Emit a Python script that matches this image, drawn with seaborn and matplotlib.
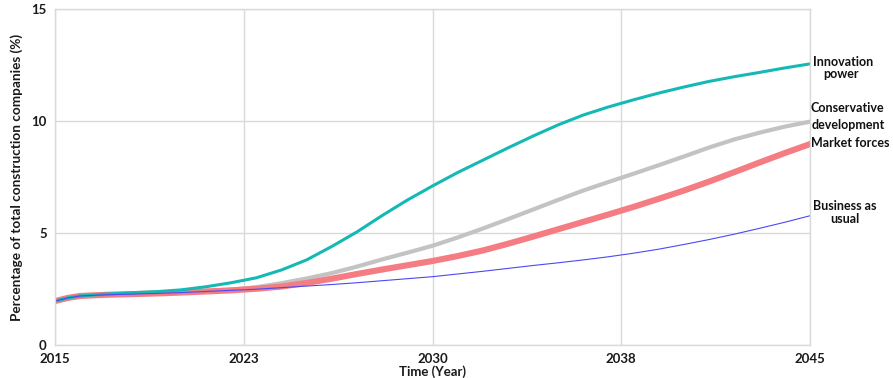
import matplotlib
matplotlib.use("Agg")
import matplotlib.pyplot as plt
import seaborn as sns
import pandas as pd

years = [2015, 2015.5, 2016, 2017, 2018, 2019, 2020, 2021, 2022, 2023, 2024, 2025, 2026,
         2027, 2028, 2029, 2030, 2031, 2032, 2033, 2034, 2035, 2036, 2037, 2038,
         2039, 2040, 2041, 2042, 2043, 2044, 2045]
innovation_power = [1.96, 2.1, 2.19, 2.27, 2.33, 2.38, 2.46, 2.6, 2.78, 3.0, 3.35, 3.8, 4.4,
                    5.05, 5.78, 6.47, 7.1, 7.7, 8.25, 8.8, 9.33, 9.83, 10.27, 10.63, 10.95,
                    11.25, 11.52, 11.77, 11.98, 12.17, 12.37, 12.55]
conservative_development = [1.96, 2.1, 2.19, 2.24, 2.27, 2.3, 2.34, 2.39, 2.47, 2.58, 2.76, 2.97, 3.21,
                            3.5, 3.82, 4.12, 4.43, 4.8, 5.2, 5.62, 6.05, 6.48, 6.9, 7.28, 7.65,
                            8.03, 8.42, 8.82, 9.18, 9.48, 9.75, 9.97]
market_forces = [1.96, 2.1, 2.19, 2.24, 2.27, 2.3, 2.34, 2.39, 2.44, 2.51, 2.61, 2.77, 2.96,
                 3.17, 3.37, 3.56, 3.75, 3.97, 4.22, 4.52, 4.84, 5.17, 5.5, 5.83, 6.17,
                 6.53, 6.9, 7.3, 7.72, 8.15, 8.57, 8.97]
business_as_usual = [1.96, 2.1, 2.19, 2.24, 2.27, 2.3, 2.34, 2.39, 2.44, 2.49, 2.56, 2.63, 2.7,
                     2.78, 2.87, 2.96, 3.05, 3.17, 3.29, 3.42, 3.55, 3.67, 3.8, 3.94, 4.1,
                     4.28, 4.49, 4.71, 4.95, 5.21, 5.48, 5.77]

series_names = ["Conservative development", "Market forces", "Innovation power", "Business as usual"]
series_values = [conservative_development, market_forces, innovation_power, business_as_usual]
tick_positions = [2015, 2022.5, 2030, 2037.5, 2045]
tick_labels = ["2015", "2023", "2030", "2038", "2045"]
y_ticks = [0, 5, 10, 15]
label_lines = [["Innovation", "power"], ["Conservative", "development"],
               ["Market forces"], ["Business as", "usual"]]

colors = ["#c3c3c3", "#f47c82", "#14b9b5", "#4a4af5"]
widths = [3.0, 4.4, 2.2, 0.8]

sns.set_theme(style="whitegrid")
plt.rcParams['font.family'] = ['Lato', 'DejaVu Sans']

fig = plt.figure(figsize=(8.93, 3.78), dpi=100)
ax = fig.add_axes([55/893, 1 - 345/378, (810-55)/893, (345-9)/378])

for name, vals, c, w in zip(series_names, series_values, colors, widths):
    df = pd.DataFrame({"year": years, "value": vals})
    sns.lineplot(data=df, x="year", y="value", ax=ax, color=c, linewidth=w)

ax.set_xlim(2015, 2045)
ax.set_ylim(0, 15)
ax.set_xticks(tick_positions)
ax.set_xticklabels(tick_labels)
ax.set_yticks(y_ticks)
ax.set_yticklabels([str(v) for v in y_ticks])
ax.tick_params(axis="both", length=0, labelsize=9.5, colors="#1a1a1a")
ax.tick_params(axis="x", pad=6)
ax.tick_params(axis="y", pad=6)
for lab in ax.get_xticklabels() + ax.get_yticklabels():
    lab.set_fontweight("bold")
ax.grid(True, color="#d9d9d9", linewidth=1.0)
for sp in ax.spines.values():
    sp.set_color("#d9d9d9")
    sp.set_linewidth(1.0)
ax.set_xlabel("Time (Year)", fontsize=9.5, fontweight="bold", color="#1a1a1a", labelpad=0)
ax.set_ylabel("Percentage of total construction companies (%)", fontsize=9.8,
              fontweight="bold", color="#1a1a1a", labelpad=6)

# label line positions (pixel centres converted to data coordinates)
line_pos = [[(843, 62), (841, 74)], [(847, 108), (848, 125)],
            [(850, 143)], [(845, 206), (845, 219)]]
for lines, poss in zip(label_lines, line_pos):
    for txt, (px, py) in zip(lines, poss):
        xd = 2015 + (px - 55) / (755 / 30)
        yd = (345 - py) / (336 / 15)
        ax.text(xd, yd, txt, ha="center", va="center", fontsize=9.0, fontweight="bold",
                color="#111111", clip_on=False)

fig.savefig("out.png", dpi=100)
